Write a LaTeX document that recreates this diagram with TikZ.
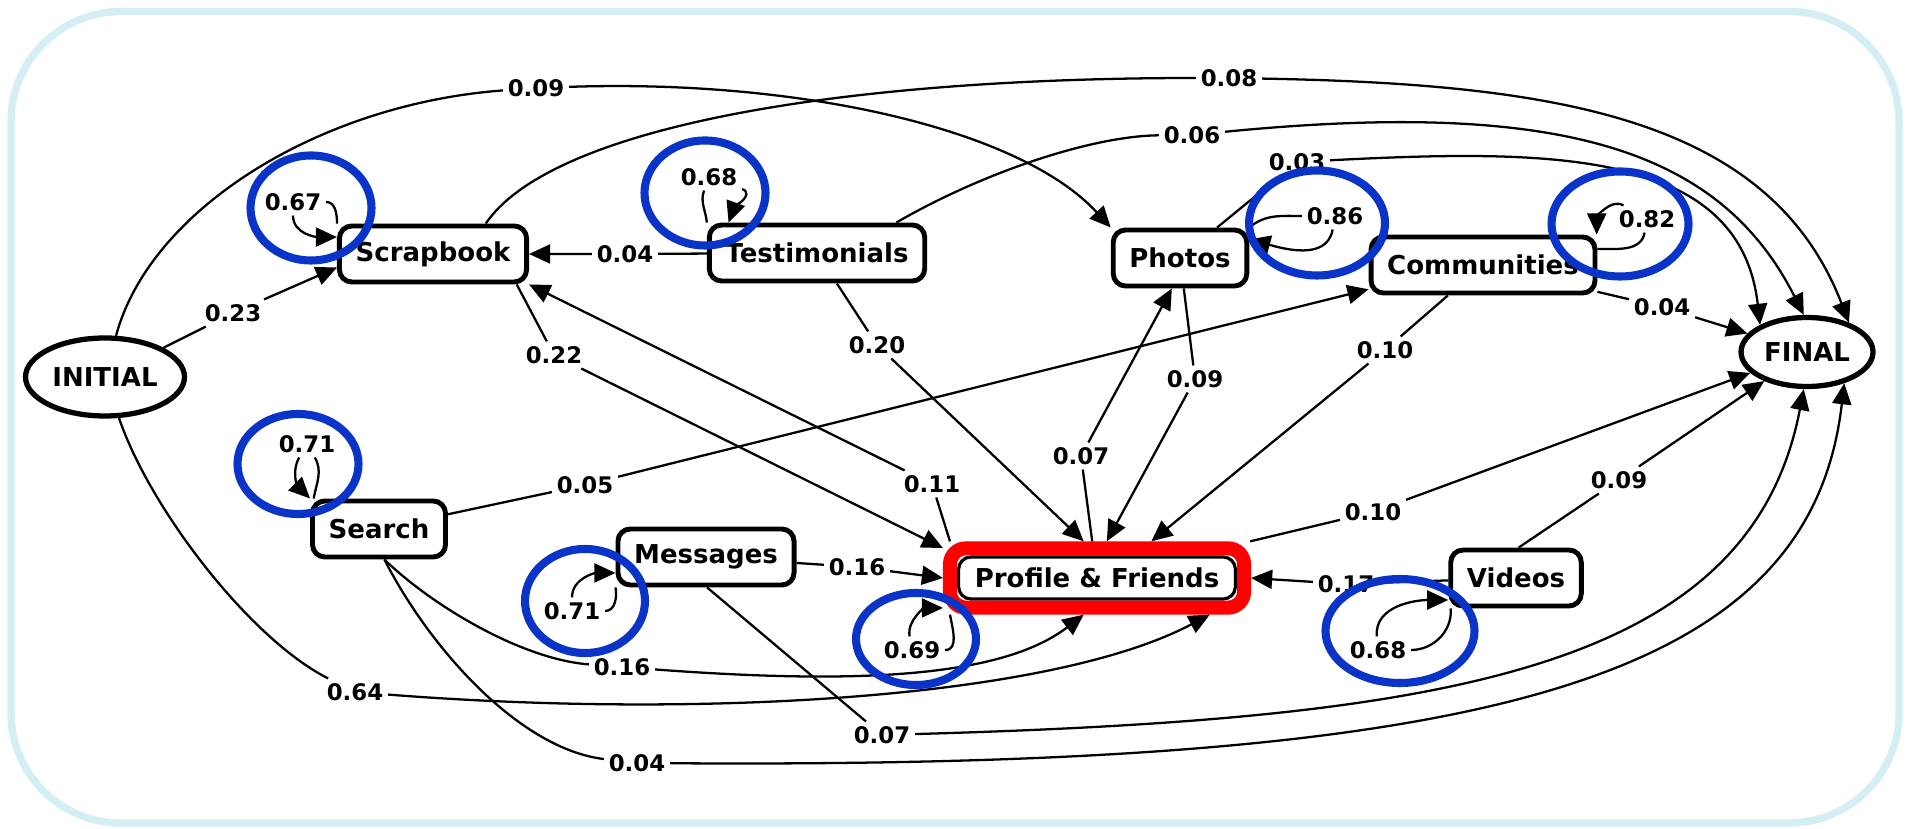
\documentclass[tikz,border=0pt]{standalone}
\usepackage{fontspec}
\setmainfont{DejaVu Sans}
\usepackage{xcolor}
\usepackage{tikz}
\usetikzlibrary{shapes.geometric,arrows.meta,fit}
\definecolor{clrFrame}{HTML}{D4EFF3}
\definecolor{clrRing}{HTML}{0A34C8}
\definecolor{clrHot}{HTML}{FF0000}
\tikzset{
  state/.style={rectangle, rounded corners=3.5pt, draw, line width=1.4pt,
    minimum height=0.56cm, inner xsep=4.6pt, inner ysep=1pt,
    font=\fontsize{7.4}{8.8}\selectfont\bfseries},
  term/.style={ellipse, draw, line width=1.5pt, inner sep=1pt,
    font=\fontsize{7.4}{8.8}\selectfont\bfseries},
  prob/.style={inner sep=1.2pt, font=\fontsize{6.5}{7.8}\selectfont\bfseries},
  edge/.style={-{Triangle[length=6pt,width=5.4pt]}, line width=0.65pt},
  ring/.style={ellipse, draw=clrRing, line width=2.3pt, inner sep=0pt},
  hot/.style={rectangle, rounded corners=4.5pt, draw=clrHot, line width=4pt,
    inner sep=2pt},
}

\begin{document}
\begin{tikzpicture}
\useasboundingbox (0,0) rectangle (19.12,8.29);
\draw[clrFrame, line width=2.1pt, rounded corners=1.1cm]
  (0.11,0.06) rectangle (18.99,8.175);

\def\yrow{2.51}

% ── states ─────────────────────────────────────────────────────────────────
\node[term, minimum width=1.59cm, minimum height=0.78cm] (init) at (1.05,4.52) {INITIAL};
\node[term, minimum width=1.32cm, minimum height=0.69cm] (fin) at (18.07,4.77) {FINAL};
\node[state] (scrap)  at (4.33,5.75)  {Scrapbook};
\node[state] (testi)  at (8.17,5.76)  {Testimonials};
\node[state] (photos) at (11.80,5.71) {Photos};
\node[state] (commu)  at (14.83,5.64) {Communities};
\node[state] (search) at (3.79,3.00)  {Search};
\node[state] (msgs)   at (7.06,2.72)  {Messages};
\node[state, line width=0.9pt, minimum height=0.42cm] (prof) at (10.97,\yrow)
  {Profile \& Friends};
\node[hot, fit=(prof)] (profhot) {};
\node[state] (videos) at (15.16,\yrow) {Videos};

% ── transition probabilities ───────────────────────────────────────────────
\node[prob] (p023)  at (2.33,5.16)  {0.23};
\node[prob] (p009a) at (5.36,7.41)  {0.09};
\node[prob] (p008)  at (12.29,7.51) {0.08};
\node[prob] (p006)  at (11.92,6.94) {0.06};
\node[prob] (p003)  at (12.97,6.67) {0.03};
\node[prob] (p004c) at (16.62,5.22) {0.04};
\node[prob] (p004t) at (6.25,5.75)  {0.04};
\node[prob] (p022)  at (5.54,4.74)  {0.22};
\node[prob] (p011)  at (9.32,3.45)  {0.11};
\node[prob] (p020)  at (8.77,4.84)  {0.20};
\node[prob] (p007p) at (10.81,3.73) {0.07};
\node[prob] (p009p) at (11.95,4.50) {0.09};
\node[prob] (p010c) at (13.85,4.79) {0.10};
\node[prob] (p005)  at (5.85,3.44)  {0.05};
\node[prob] (p016m) at (8.57,2.62)  {0.16};
\node[prob] (p017)  at (13.46,2.45) {0.17};
\node[prob] (p010p) at (13.73,3.17) {0.10};
\node[prob] (p009v) at (16.19,3.49) {0.09};
\node[prob] (p016s) at (6.22,1.62)  {0.16};
\node[prob] (p064)  at (3.55,1.37)  {0.64};
\node[prob] (p007m) at (8.82,0.94)  {0.07};
\node[prob] (p004s) at (6.37,0.66)  {0.04};
% self loops
\node[prob] (p067)  at (2.93,6.27)  {0.67};
\node[prob] (p068t) at (7.09,6.52)  {0.68};
\node[prob] (p086)  at (13.35,6.13) {0.86};
\node[prob] (p082)  at (16.47,6.10) {0.82};
\node[prob] (p071s) at (3.07,3.85)  {0.71};
\node[prob] (p071m) at (5.72,2.18)  {0.71};
\node[prob] (p069)  at (9.12,1.79)  {0.69};
\node[prob] (p068v) at (13.78,1.79) {0.68};

% ── transitions ────────────────────────────────────────────────────────────
\draw[edge] (init) -- (p023) -- (scrap.188);
\draw[edge] (init) .. controls (1.5,6.2) and (3.2,7.25) .. (p009a)
  .. controls (8.0,7.5) and (10.2,7.0) .. (photos.north west);
\draw[edge] (init) .. controls (1.5,3.2) and (2.5,1.9) .. (p064)
  .. controls (7.0,1.1) and (10.5,1.3) .. (profhot.342);

\draw[edge] (scrap.30) .. controls (5.5,7.0) and (8.3,7.51) .. (p008)
  .. controls (15.6,7.45) and (17.7,7.1) .. (fin.35);
\draw[edge] (testi.21) .. controls (9.8,6.55) and (10.9,6.93) .. (p006)
  .. controls (15.6,7.3) and (17.2,6.8) .. (fin.95);
\draw[edge] (photos) -- (p003)
  .. controls (15.5,6.8) and (17.4,6.8) .. (fin.150);
\draw[edge] (commu) -- (p004c) -- (fin);

\draw[edge] (testi) -- (p004t) -- (scrap);
\draw[edge] (scrap.-20) -- (p022) -- (profhot.169);
\draw[edge] (profhot.166) -- (p011) -- (scrap.south east);
\draw[edge] (testi) -- (p020) -- (profhot.110);
\draw[edge] (profhot) -- (p007p) -- (photos.255);
\draw[edge] (photos) -- (p009p) -- (profhot.75);
\draw[edge] (commu) -- (p010c) -- (profhot.34);
\draw[edge] (search) -- (p005) -- (commu.192);
\draw[edge] (msgs) -- (p016m) -- (profhot.west);
\draw[edge] (videos) -- (p017) -- (profhot.east);
\draw[edge] (profhot) -- (p010p) -- (fin);
\draw[edge] (videos.85) -- (p009v) -- (fin);

\draw[edge] (search.-80) .. controls (4.3,2.25) and (5.2,1.7) .. (p016s)
  .. controls (8.5,1.45) and (10.0,1.5) .. (profhot.250);
\draw[edge] (search.-80) .. controls (4.3,1.8) and (5.2,0.8) .. (p004s)
  .. controls (15.0,0.6) and (18.1,1.5) .. (fin.-40);
\draw[edge] (msgs.-88) -- (p007m)
  .. controls (14.5,1.1) and (17.5,1.6) .. (fin.-95);

% ── self loops ─────────────────────────────────────────────────────────────
\draw[edge] (scrap.north west) to[out=90,in=0] (p067) to[out=-90,in=180] (scrap.170);
\draw[edge] (testi.north west) to[out=95,in=250] (p068t) to[out=-20,in=70] (testi.161);
\draw[edge] (photos.north east) to[out=40,in=180] (p086) to[out=-100,in=-15] (photos.15);
\draw[edge] (commu.8) to[out=0,in=-100] (p082) to[out=150,in=90] (commu.15);
\draw[edge] (search.155) to[out=80,in=-60] (p071s) to[out=-120,in=135] (search.north west);
\draw[edge] (msgs.south west) to[out=-80,in=0] (p071m) to[out=90,in=180] (msgs.190);
\draw[edge] (profhot.194) to[out=-80,in=0] (p069) to[out=100,in=180] (profhot.191);
\draw[edge] (videos.205) to[out=-85,in=0] (p068v) to[out=95,in=180] (videos.198);

% ── highlight rings ────────────────────────────────────────────────────────
\node[ring, minimum width=1.21cm, minimum height=1.05cm] (rScrap)  at (3.11,6.21)  {};
\node[ring, minimum width=1.21cm, minimum height=1.05cm] (rTesti)  at (7.05,6.36)  {};
\node[ring, minimum width=1.36cm, minimum height=1.05cm] (rPhotos) at (13.17,6.06) {};
\node[ring, minimum width=1.37cm, minimum height=1.05cm] (rCommu)  at (16.20,6.05) {};
\node[ring, minimum width=1.21cm, minimum height=1.00cm] (rSearch) at (2.98,3.65)  {};
\node[ring, minimum width=1.20cm, minimum height=1.04cm] (rMsgs)   at (5.85,2.28)  {};
\node[ring, minimum width=1.20cm, minimum height=0.92cm] (rProf)   at (9.16,1.90)  {};
\node[ring, minimum width=1.49cm, minimum height=1.04cm] (rVideos) at (14.00,1.98) {};

\end{tikzpicture}
\end{document}
